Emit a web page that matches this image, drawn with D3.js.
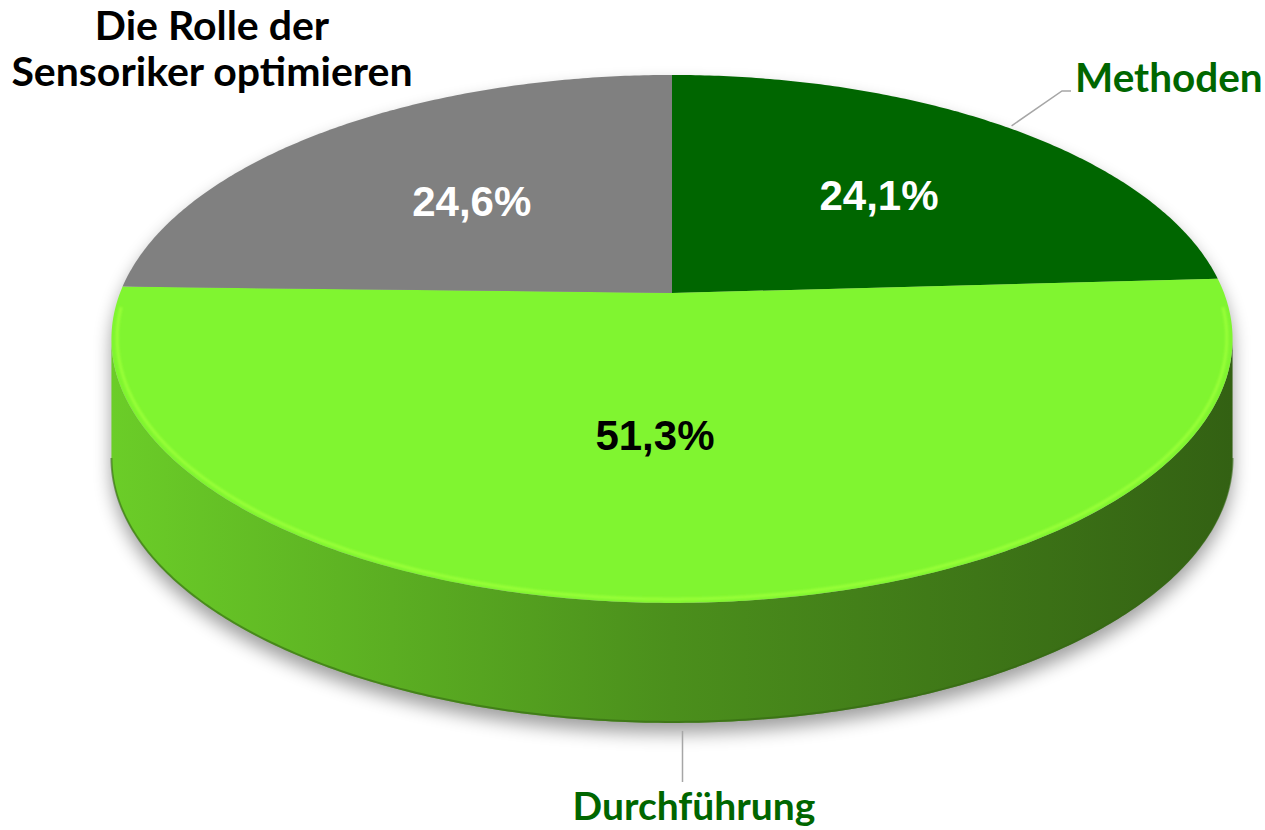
<!DOCTYPE html>
<html>
<head>
<meta charset="utf-8">
<script src="https://cdn.jsdelivr.net/npm/d3@7"></script>
<style>
  body { margin: 0; background: #fff; }
  svg { display: block; }
</style>
</head>
<body>
<svg width="1265" height="830"></svg>
<script>
// data
var categories = ["Methoden", "Durchführung", "Die Rolle der Sensoriker optimieren"];
var values = [24.1, 51.3, 24.6];
var sliceColors = ["#006600", "#80f530", "#808080"];
var valueColors = ["#ffffff", "#000000", "#ffffff"];

var de = d3.formatLocale({decimal: ",", thousands: ".", grouping: [3], currency: ["", " €"]});
var fmt = function(v) { return de.format(".1f")(v) + "%"; };

var svg = d3.select("svg");

// 3d pie geometry (perspective of a flat disc)
var cx = 672, cy = 293, A = 552, B = 256, k = 0.174, depth = 120;

function proj(a, r) {
  var u = r * Math.sin(a), v = -r * Math.cos(a);
  var w = 1 + k * r * Math.cos(a);
  return [cx + A * u / w, cy + B * v / w];
}
function arcPts(a0, a1, r, dy) {
  var n = Math.max(2, Math.ceil(Math.abs(a1 - a0) / 0.01));
  return d3.range(n + 1).map(function(i) {
    var p = proj(a0 + (a1 - a0) * i / n, r);
    return [p[0], p[1] + (dy || 0)];
  });
}

var line = d3.line();
var pie = d3.pie().sort(null);
var arcs = pie(values);

var aR = Math.acos(-k), aL = 2 * Math.PI - aR;
var xMin = proj(aL, 1)[0], xMax = proj(aR, 1)[0];

var defs = svg.append("defs");
defs.append("filter").attr("id", "shadow")
  .attr("x", "-20%").attr("y", "-20%").attr("width", "140%").attr("height", "140%")
  .append("feGaussianBlur").attr("stdDeviation", 9);
defs.append("filter").attr("id", "soft")
  .append("feGaussianBlur").attr("stdDeviation", 1.2);

arcs.forEach(function(d, i) {
  var c = d3.color(sliceColors[i]);
  var g = defs.append("linearGradient").attr("id", "side" + i)
    .attr("gradientUnits", "userSpaceOnUse")
    .attr("x1", xMin).attr("x2", xMax).attr("y1", 0).attr("y2", 0);
  g.append("stop").attr("offset", 0).attr("stop-color", c.darker(0.5));
  g.append("stop").attr("offset", 0.5).attr("stop-color", c.darker(1.5));
  g.append("stop").attr("offset", 1).attr("stop-color", c.darker(2.6));
});

// drop shadow
var silhouette = arcPts(aL - 2 * Math.PI, aR, 1, 0).concat(arcPts(aR, aL, 1, depth));
svg.append("path")
  .attr("d", line(silhouette) + "Z")
  .attr("transform", "translate(0,10)")
  .attr("fill", "#000")
  .attr("opacity", 0.38)
  .attr("filter", "url(#shadow)");

// sides
arcs.forEach(function(d, i) {
  var s0 = Math.max(d.startAngle, aR), s1 = Math.min(d.endAngle, aL);
  if (s1 <= s0) return;
  var pts = arcPts(s0, s1, 1, 0).concat(arcPts(s1, s0, 1, depth));
  svg.append("path")
    .attr("d", line(pts) + "Z")
    .attr("fill", "url(#side" + i + ")");
  svg.append("path")
    .attr("d", line(arcPts(s0, s1, 1, depth - 1)))
    .attr("fill", "none")
    .attr("stroke", d3.color(sliceColors[i]).darker(2.4))
    .attr("stroke-width", 2)
    .attr("opacity", 0.6);
});

// top faces
arcs.forEach(function(d, i) {
  var pts = [[cx, cy]].concat(arcPts(d.startAngle, d.endAngle, 1, 0));
  svg.append("path")
    .attr("d", line(pts) + "Z")
    .attr("fill", sliceColors[i]);
});

// bevel highlight on the front rim
arcs.forEach(function(d, i) {
  var s0 = Math.max(d.startAngle, aR - 0.15), s1 = Math.min(d.endAngle, aL + 0.15);
  if (s1 <= s0) return;
  svg.append("path")
    .attr("d", line(arcPts(s0 + 0.03, s1 - 0.03, 0.99, 0)))
    .attr("fill", "none")
    .attr("stroke", d3.color(sliceColors[i]).brighter(0.5))
    .attr("stroke-width", 3)
    .attr("filter", "url(#soft)");
});

// value labels (small nudges like the original layout)
var labelShift = [[22, -7], [-22, -4], [-12, -2]];
arcs.forEach(function(d, i) {
  var p = proj((d.startAngle + d.endAngle) / 2, 0.52);
  svg.append("text")
    .attr("x", p[0] + labelShift[i][0]).attr("y", p[1] + 15 + labelShift[i][1])
    .attr("text-anchor", "middle")
    .attr("font-family", "'Liberation Sans', Arial, sans-serif")
    .attr("font-weight", "bold")
    .attr("font-size", 42)
    .attr("fill", valueColors[i])
    .text(fmt(d.value));
});

// category labels
var catFont = "Lato, 'Noto Sans', sans-serif";
var leader = "#a6a6a6";

var m = proj((arcs[0].startAngle + arcs[0].endAngle) / 2, 1);
svg.append("path")
  .attr("d", line([[m[0] + 3, m[1] - 2], [1062, 91], [1071, 91]]))
  .attr("fill", "none").attr("stroke", leader).attr("stroke-width", 1.5);
svg.append("text")
  .attr("x", 1075).attr("y", 92)
  .attr("font-family", catFont).attr("font-weight", "bold").attr("font-size", 40.5)
  .attr("fill", "#006600")
  .text(categories[0]);

var b = proj((arcs[1].startAngle + arcs[1].endAngle) / 2, 1);
svg.append("path")
  .attr("d", line([[b[0], b[1] + depth + 8], [b[0], 782]]))
  .attr("fill", "none").attr("stroke", leader).attr("stroke-width", 1.5);
svg.append("text")
  .attr("x", 694).attr("y", 820)
  .attr("text-anchor", "middle")
  .attr("font-family", catFont).attr("font-weight", "bold").attr("font-size", 39)
  .attr("fill", "#006600")
  .text(categories[1]);

var title = svg.append("text")
  .attr("text-anchor", "middle")
  .attr("font-family", catFont).attr("font-weight", "bold").attr("font-size", 41)
  .attr("fill", "#000");
title.append("tspan").attr("x", 212).attr("y", 40).text("Die Rolle der");
title.append("tspan").attr("x", 212).attr("y", 86).text("Sensoriker optimieren");
</script>
</body>
</html>
